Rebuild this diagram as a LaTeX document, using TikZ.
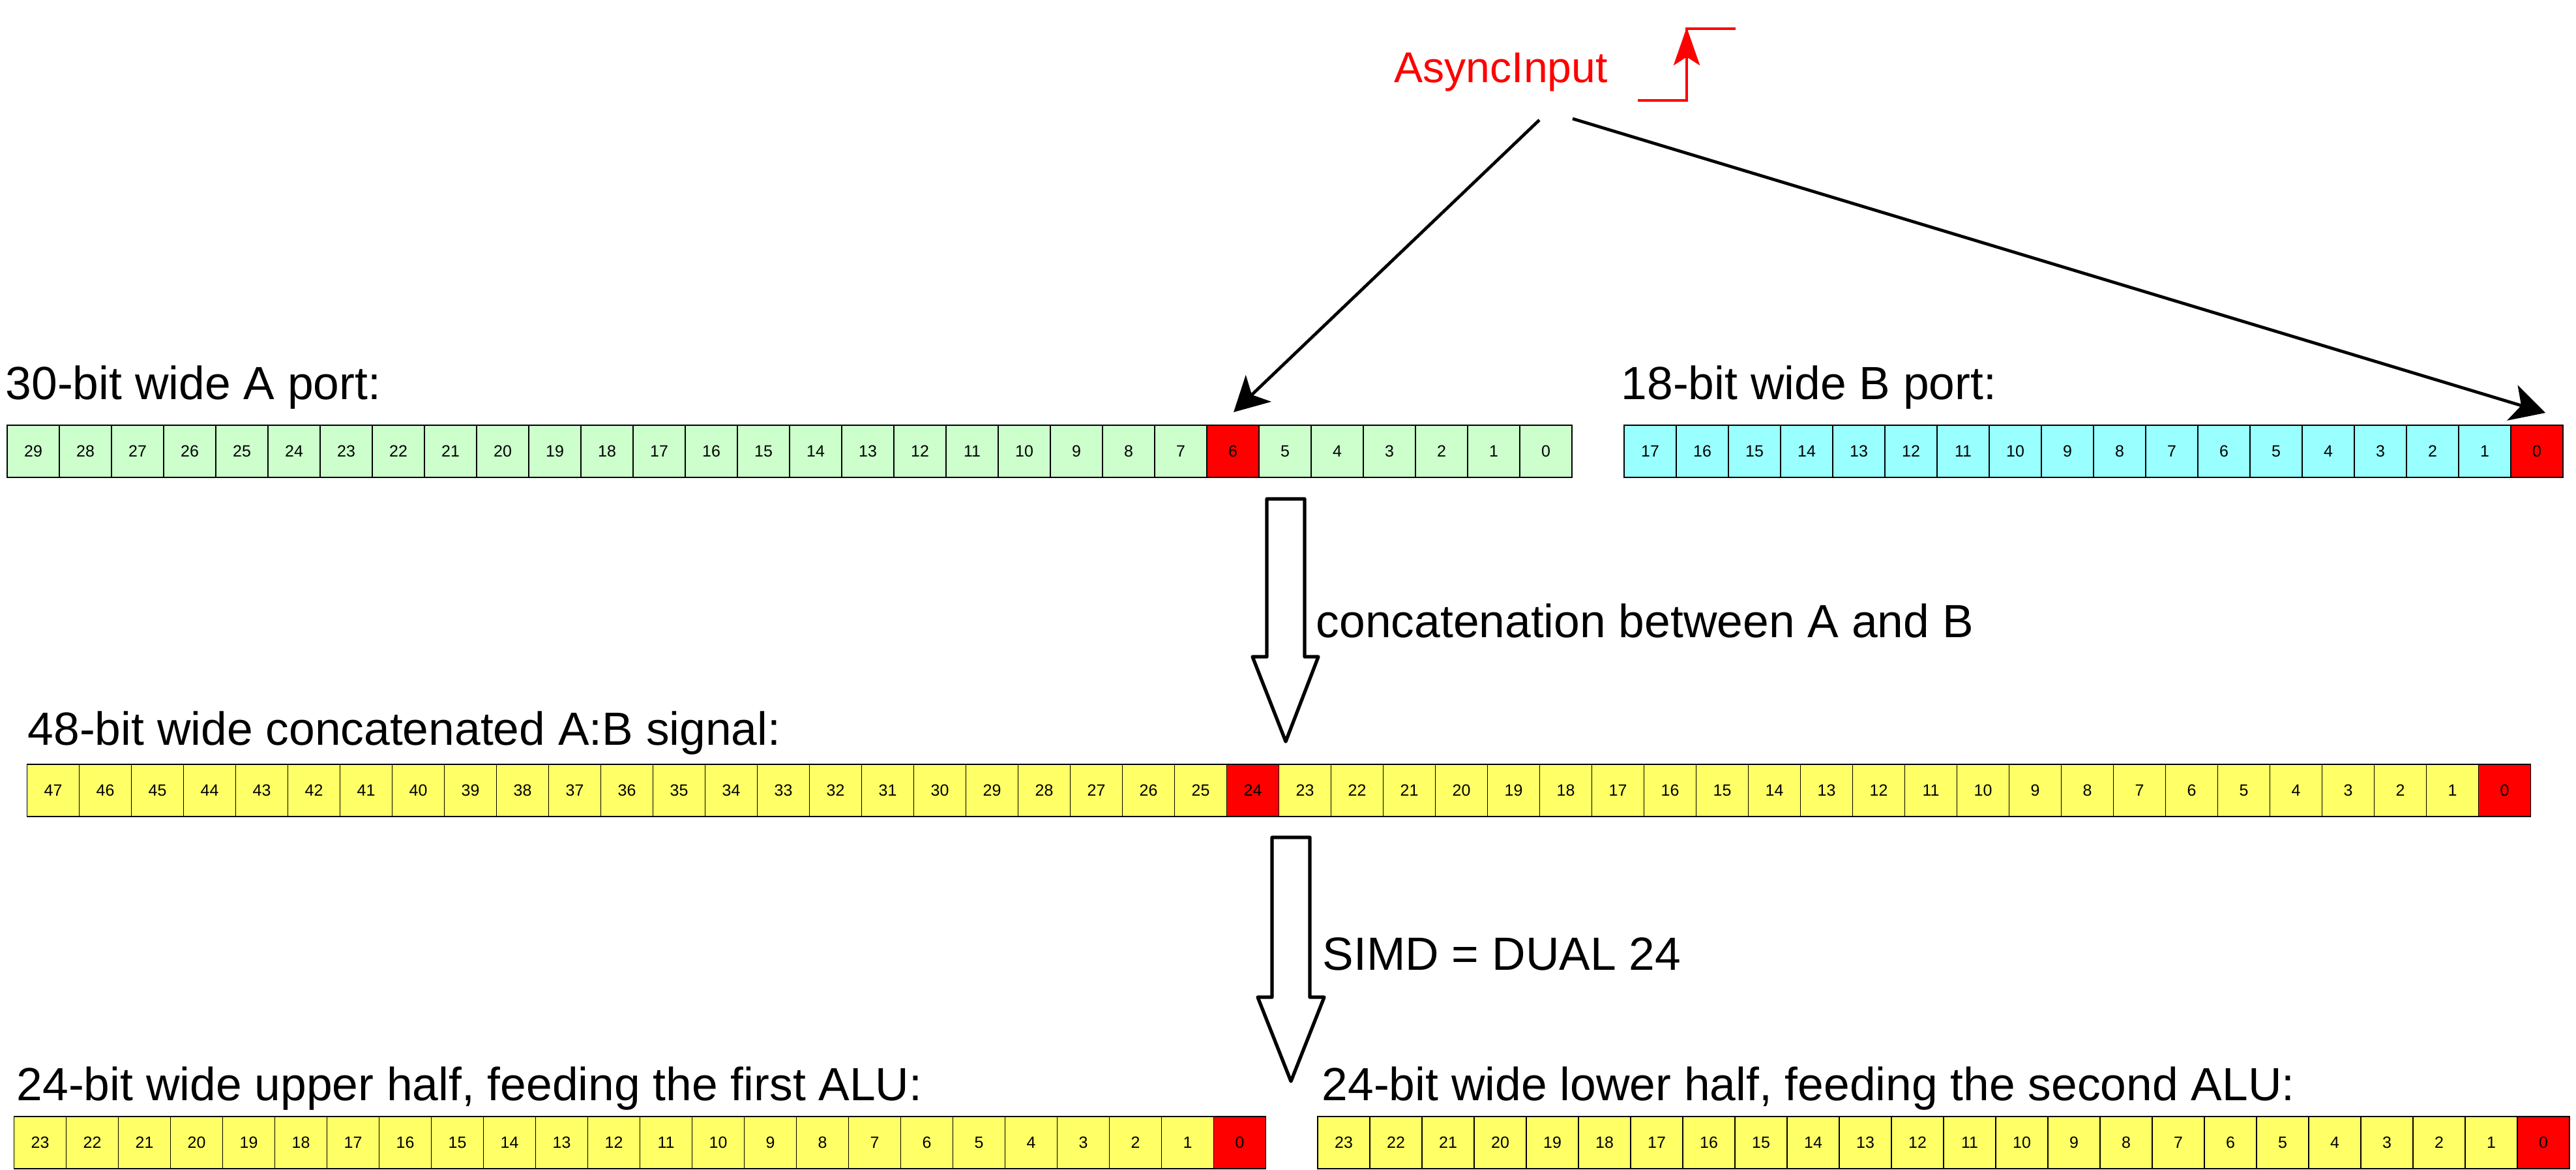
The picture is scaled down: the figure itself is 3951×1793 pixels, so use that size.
\documentclass[tikz,border=0pt]{standalone}
\usepackage{fontspec}
\setmainfont{Liberation Sans}
\usetikzlibrary{arrows.meta,calc}
\definecolor{agreen}{HTML}{CCFFCC}
\definecolor{bcyan}{HTML}{99FFFF}
\definecolor{cyel}{HTML}{FFFF66}
\definecolor{bred}{HTML}{FF0000}
\begin{document}
\begin{tikzpicture}[x=0.01cm,y=-0.01cm,
  cell/.style={draw=black, line width=0.5pt, minimum width=0.8cm, minimum height=0.8cm,
    inner sep=0pt, outer sep=0pt, anchor=north west, font=\fontsize{7.1pt}{8pt}\selectfont},
  lbl/.style={anchor=base west, inner sep=0pt, font=\fontsize{20.3pt}{24pt}\selectfont},
  conn/.style={line width=1.35pt, -{Stealth[length=15pt,width=16pt,inset=4pt]}},
  blockarrow/.style={draw=black, line width=1.5pt, line join=round, fill=white},
  stepline/.style={draw=bred, line width=1.4pt}]
\fill[white] (0,0) rectangle (3951,1793);
\useasboundingbox (0,0) rectangle (3951,1793);

% Row A: 30 bits
\foreach \i in {0,...,29} {
  \pgfmathtruncatemacro\b{29-\i}
  \ifnum\b=6 \def\cc{bred}\else\def\cc{agreen}\fi
  \node[cell, fill=\cc] (a\b) at ({11+80*\i},652) {\b};
}
% Row B: 18 bits
\foreach \i in {0,...,17} {
  \pgfmathtruncatemacro\b{17-\i}
  \ifnum\b=0 \def\cc{bred}\else\def\cc{bcyan}\fi
  \node[cell, fill=\cc] (b\b) at ({2491+80*\i},652) {\b};
}
% Row C: 48 bits
\foreach \i in {0,...,47} {
  \pgfmathtruncatemacro\b{47-\i}
  \def\cc{cyel}
  \ifnum\b=24 \def\cc{bred}\fi
  \ifnum\b=0 \def\cc{bred}\fi
  \node[cell, fill=\cc] (c\b) at ({41.5+80*\i},1172) {\b};
}
% Row D and E: 24 bits each
\foreach \i in {0,...,23} {
  \pgfmathtruncatemacro\b{23-\i}
  \ifnum\b=0 \def\cc{bred}\else\def\cc{cyel}\fi
  \node[cell, fill=\cc] (d\b) at ({21.5+80*\i},1712) {\b};
  \node[cell, fill=\cc] (e\b) at ({2021+80*\i},1712) {\b};
}

% Labels
\node[lbl] (la) at (8,612) {30-bit wide A port:};
\node[lbl] (lb) at (2486,612) {18-bit wide B port:};
\node[lbl] (lc) at (42,1142) {48-bit wide concatenated A:B signal:};
\node[lbl] (lcat) at (2018,977) {concatenation between A and B};
\node[lbl] (lsimd) at (2028,1487) {SIMD = DUAL 24};
\node[lbl] (ld) at (25,1687) {24-bit wide upper half, feeding the first ALU:};
\node[lbl] (le) at (2027,1687) {24-bit wide lower half, feeding the second ALU:};
\node[lbl, text=bred, font=\fontsize{18.8pt}{22pt}\selectfont] (async) at (2138,126) {AsyncInput};

% Rising-edge symbol
\draw[stepline] (2512,154) -- (2587,154) -- (2587,44) -- (2662,44);
\draw[stepline, -{Stealth[length=16.5pt,width=11.4pt,inset=3.6pt]}] (2587,150) -- (2587,42);

% Connectors from AsyncInput
\coordinate (asL) at (2361,184);
\coordinate (asR) at (2412,182);
\draw[conn] (asL) -- ($(a6.north)+(1,-20)$);
\draw[conn] (asR) -- ($(b0.north)+(13,-19)$);

% Block arrows
\draw[blockarrow] (1943,765) -- (2001,765) -- (2001,1007) -- (2022,1007) -- (1972,1137)
  -- (1921,1007) -- (1943,1007) -- cycle;
\draw[blockarrow] (1951,1284) -- (2009,1284) -- (2009,1529) -- (2031,1529) -- (1980,1658)
  -- (1929,1529) -- (1951,1529) -- cycle;
\end{tikzpicture}
\end{document}
